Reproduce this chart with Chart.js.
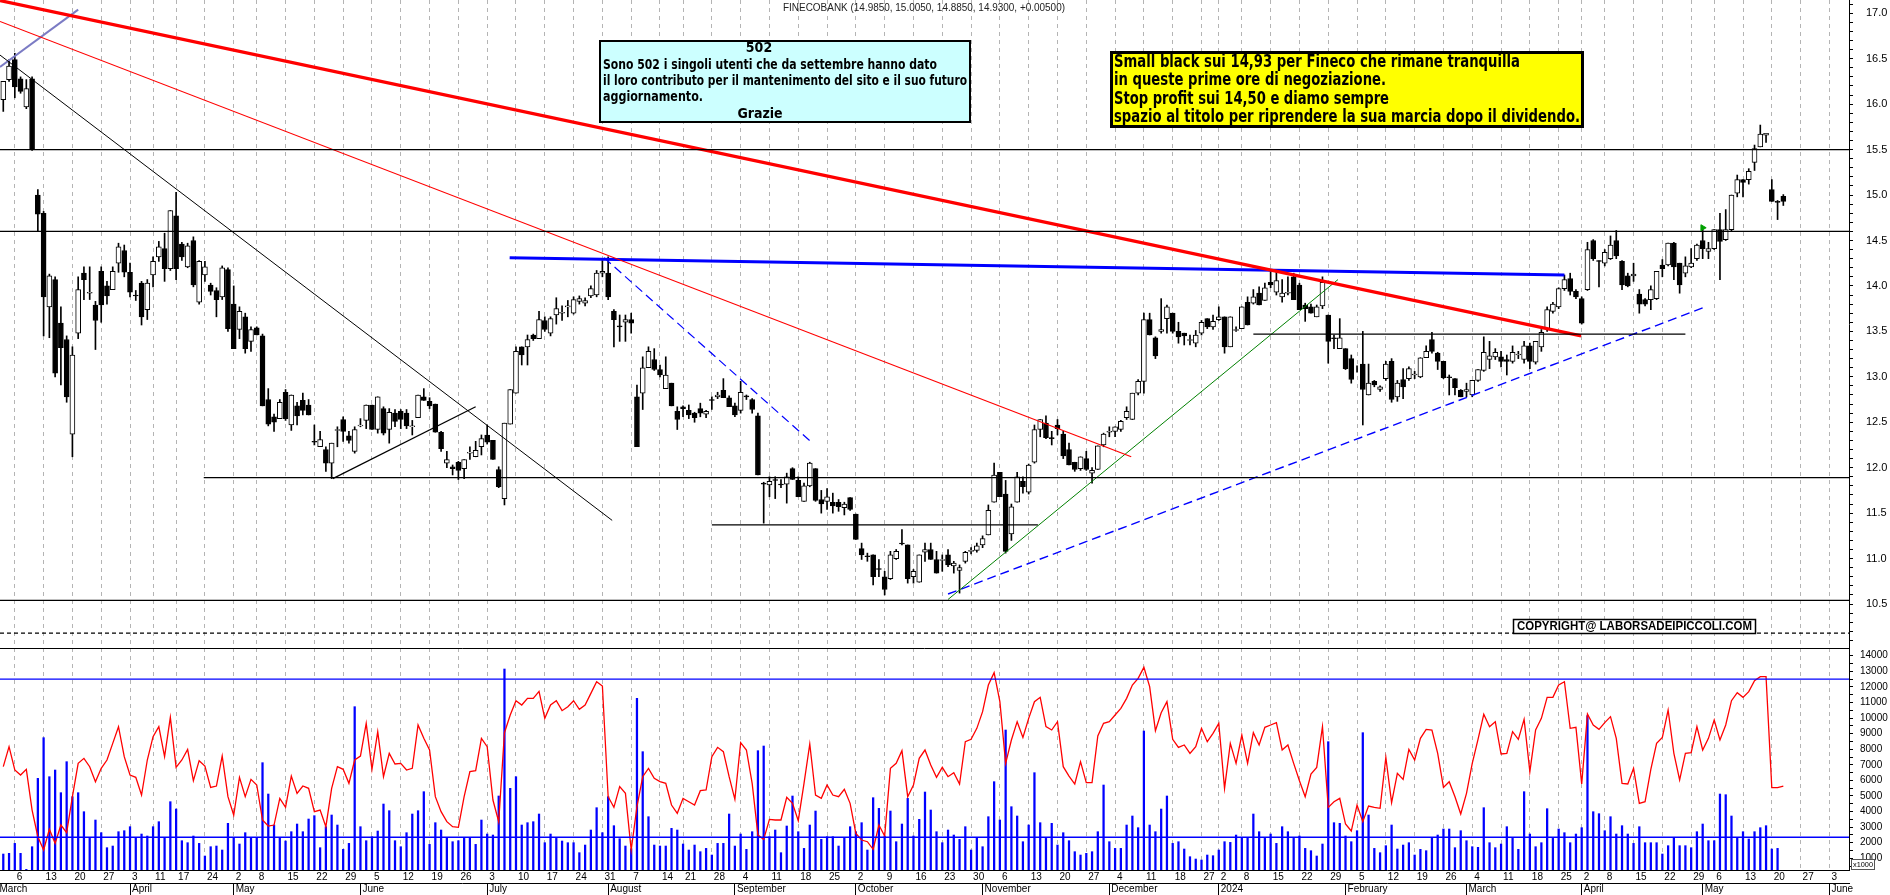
<!DOCTYPE html>
<html>
<head>
<meta charset="utf-8">
<script src="https://cdn.jsdelivr.net/npm/chart.js@4/dist/chart.umd.min.js"></script>
<style>
  html, body { margin: 0; padding: 0; background: #fff; overflow: hidden; }
  #wrap { position: relative; width: 1890px; height: 895px; }
  #priceCanvas { position: absolute; left: 0; top: 0; }
  #volCanvas { position: absolute; left: 0; top: 648px; }
</style>
</head>
<body>
<div id="wrap">
  <canvas id="priceCanvas" width="1890" height="648"></canvas>
  <canvas id="volCanvas" width="1890" height="247"></canvas>
</div>
<script>
// FinecoBank daily candles, 2 Mar 2023 -> 22 May 2024, one entry per trading day.
const opens = [
  16.05,16.27,16.49,16.28,15.97,16.28,15.00,14.80,13.77,14.07,
  13.59,13.41,12.37,13.48,14.14,13.92,13.79,14.16,14.00,13.96,
  14.25,14.39,14.15,13.90,14.03,13.74,14.12,14.32,14.41,14.19,
  14.77,14.46,14.21,14.50,13.82,14.12,14.01,13.95,13.88,14.18,
  13.80,13.52,13.66,13.39,13.54,13.45,12.75,12.56,12.54,12.83,
  12.47,12.68,12.74,12.69,12.29,12.23,12.20,12.05,12.41,12.53,
  12.35,12.18,12.46,12.52,12.69,12.42,12.65,12.42,12.60,12.62,
  12.60,12.45,12.55,12.78,12.73,12.70,12.39,12.05,12.01,12.06,
  11.99,12.16,12.12,12.23,12.36,12.30,11.98,11.66,12.48,12.82,
  13.33,13.33,13.46,13.42,13.62,13.48,13.68,13.70,13.77,13.70,
  13.83,13.81,13.89,13.90,14.14,14.14,13.72,13.56,13.60,13.63,
  12.78,12.82,13.10,13.19,13.08,12.87,12.93,12.62,12.67,12.63,
  12.60,12.65,12.59,12.75,12.78,12.85,12.77,12.68,12.63,12.79,
  12.75,12.57,11.83,11.81,11.87,11.82,11.82,11.99,11.86,11.63,
  11.80,11.99,11.65,11.63,11.62,11.62,11.56,11.67,11.49,11.11,
  11.03,11.04,10.89,10.80,10.78,11.00,11.17,11.15,10.80,10.74,
  11.07,11.10,10.99,10.98,11.04,10.92,10.87,10.97,11.08,11.09,
  11.15,11.26,11.62,11.95,11.71,11.27,11.62,11.85,11.73,12.06,
  12.42,12.49,12.33,12.47,12.37,12.20,12.06,11.99,12.10,11.94,
  11.98,12.25,12.39,12.40,12.42,12.55,12.53,12.82,12.95,13.63,
  13.43,13.50,13.64,13.70,13.50,13.48,13.40,13.37,13.48,13.64,
  13.55,13.63,13.66,13.33,13.51,13.53,13.82,13.81,13.92,13.84,
  14.04,13.93,13.88,13.92,14.10,14.01,13.79,13.77,13.66,13.78,
  13.68,13.43,13.31,13.31,13.20,13.10,13.14,12.80,12.95,12.86,
  12.98,13.17,12.78,12.97,12.98,13.02,13.00,13.21,13.41,13.26,
  13.17,13.00,12.98,12.85,12.84,12.80,12.96,13.07,13.19,13.22,
  13.22,13.19,13.17,13.24,13.19,13.34,13.16,13.33,13.53,13.72,
  13.77,13.97,14.08,13.94,13.86,13.96,14.50,14.28,14.25,14.30,
  14.50,14.27,14.11,14.11,13.91,13.85,13.85,13.86,14.23,14.23,
  14.47,14.25,14.14,14.21,14.30,14.50,14.38,14.41,14.62,14.51,
  14.62,15.02,15.17,15.17,15.36,15.53,15.66,15.06,14.93,14.985
];
const highs = [
  16.25,16.49,16.56,16.30,16.27,16.30,15.06,14.82,14.13,14.10,
  13.77,13.45,13.33,14.10,14.21,14.21,13.83,14.21,14.05,14.21,
  14.47,14.45,14.25,13.95,14.05,14.07,14.32,14.49,14.58,14.83,
  15.03,14.48,14.47,14.54,14.28,14.27,14.03,13.98,14.22,14.20,
  14.00,13.77,13.70,13.55,13.55,13.47,12.87,12.59,12.75,12.86,
  12.80,12.72,12.82,12.75,12.47,12.40,12.23,12.27,12.45,12.56,
  12.40,12.45,12.54,12.69,12.69,12.78,12.67,12.65,12.64,12.64,
  12.64,12.52,12.80,12.87,12.77,12.70,12.40,12.18,12.03,12.07,
  12.09,12.23,12.29,12.36,12.47,12.30,12.01,12.49,12.86,13.33,
  13.33,13.46,13.47,13.72,13.66,13.66,13.87,13.78,13.84,13.88,
  13.89,13.87,14.00,14.17,14.28,14.32,13.74,13.68,13.68,13.70,
  12.91,13.22,13.33,13.31,13.13,13.22,12.93,12.67,12.68,12.69,
  12.61,12.71,12.63,12.78,12.83,12.98,12.79,12.71,12.95,12.80,
  12.76,12.60,11.84,11.90,11.90,11.87,11.94,12.00,11.90,11.83,
  12.06,11.99,11.75,11.77,11.72,11.65,11.62,11.67,11.49,11.17,
  11.06,11.04,10.99,10.86,11.08,11.10,11.32,11.15,10.88,11.04,
  11.17,11.17,11.08,11.04,11.10,10.97,10.93,11.08,11.12,11.17,
  11.25,11.59,12.05,11.95,11.86,11.60,11.95,11.90,12.04,12.47,
  12.53,12.57,12.40,12.53,12.40,12.27,12.06,12.12,12.18,12.00,
  12.24,12.38,12.45,12.45,12.52,12.67,12.82,12.97,13.70,13.70,
  13.44,13.86,13.79,13.70,13.60,13.48,13.46,13.51,13.62,13.64,
  13.68,13.77,13.66,13.66,13.55,13.77,13.88,13.96,13.99,14.03,
  14.16,14.16,14.07,14.10,14.14,14.03,13.81,13.80,13.79,14.10,
  13.68,13.46,13.64,13.31,13.24,13.12,13.50,13.14,12.96,12.90,
  13.17,13.20,12.96,13.09,13.11,13.06,13.21,13.34,13.49,13.27,
  13.17,13.02,12.98,12.86,12.93,12.96,13.08,13.44,13.39,13.31,
  13.28,13.24,13.34,13.28,13.39,13.37,13.39,13.52,13.77,13.82,
  13.98,14.12,14.14,13.96,13.88,14.48,14.51,14.28,14.40,14.55,
  14.61,14.28,14.14,14.25,13.96,13.86,14.00,14.16,14.29,14.47,
  14.48,14.25,14.32,14.41,14.46,14.62,14.48,14.62,14.80,14.84,
  15.00,15.22,15.17,15.29,15.55,15.77,15.68,15.17,14.94,15.005
];
const lows = [
  15.92,16.25,16.07,16.12,15.95,15.49,14.60,13.45,13.43,13.00,
  12.91,12.72,12.12,13.42,13.85,13.85,13.30,13.60,13.80,13.96,
  14.15,14.10,13.88,13.84,13.57,13.63,13.99,14.27,14.05,14.17,
  14.07,14.28,14.20,13.99,13.80,14.05,13.90,13.66,13.85,13.50,
  13.31,13.42,13.26,13.28,13.46,12.68,12.46,12.40,12.54,12.52,
  12.41,12.47,12.58,12.58,12.25,12.23,11.96,11.88,12.23,12.29,
  12.27,12.16,12.45,12.43,12.42,12.38,12.36,12.27,12.45,12.43,
  12.43,12.36,12.55,12.74,12.65,12.39,12.18,12.00,11.92,11.87,
  11.88,12.09,12.12,12.14,12.26,12.09,11.78,11.59,12.48,12.82,
  13.13,13.13,13.40,13.42,13.50,13.45,13.58,13.62,13.66,13.69,
  13.80,13.78,13.87,13.88,14.10,13.85,13.33,13.39,13.39,13.48,
  12.23,12.64,13.10,13.07,13.00,12.87,12.68,12.42,12.56,12.54,
  12.50,12.56,12.55,12.64,12.76,12.77,12.67,12.56,12.60,12.75,
  12.60,11.92,11.39,11.68,11.66,11.78,11.61,11.87,11.68,11.63,
  11.79,11.63,11.50,11.54,11.50,11.52,11.48,11.53,11.21,10.99,
  10.97,10.71,10.80,10.60,10.77,10.99,11.15,10.73,10.73,10.74,
  10.97,10.99,10.84,10.86,10.91,10.84,10.62,10.95,11.05,11.07,
  11.12,11.26,11.62,11.68,11.06,11.20,11.62,11.72,11.71,12.05,
  12.34,12.32,12.25,12.36,12.10,12.03,11.96,11.97,11.97,11.83,
  11.98,12.23,12.34,12.34,12.40,12.53,12.53,12.80,12.82,13.46,
  13.20,13.48,13.48,13.48,13.37,13.35,13.35,13.33,13.46,13.53,
  13.52,13.62,13.26,13.33,13.50,13.53,13.57,13.80,13.79,13.84,
  13.98,13.90,13.82,13.90,13.85,13.74,13.61,13.70,13.66,13.75,
  13.15,13.31,13.31,13.08,12.93,13.05,12.47,12.80,12.89,12.84,
  12.96,12.72,12.73,12.76,12.96,12.98,12.99,13.21,13.26,13.08,
  12.98,12.80,12.80,12.78,12.78,12.78,12.95,13.06,13.09,13.19,
  13.11,13.02,13.15,13.20,13.15,13.09,13.14,13.28,13.50,13.70,
  13.75,13.95,13.90,13.86,13.58,13.95,14.28,13.99,14.22,14.29,
  14.30,13.96,13.99,14.05,13.70,13.78,13.74,13.85,14.10,14.22,
  14.07,13.92,14.10,14.20,14.28,14.30,14.30,14.40,14.07,14.50,
  14.60,14.98,14.98,15.12,15.27,15.53,15.58,14.93,14.73,14.885
];
const closes = [
  16.25,16.42,16.19,16.14,16.17,15.50,14.79,13.88,14.11,13.04,
  13.32,12.78,13.24,13.96,14.07,13.93,13.62,13.79,13.89,14.16,
  14.43,14.15,13.93,13.89,13.66,14.03,14.27,14.43,14.19,14.83,
  14.19,14.32,14.44,14.01,14.27,14.21,13.94,13.85,14.20,13.53,
  13.31,13.72,13.31,13.52,13.46,12.68,12.48,12.50,12.72,12.54,
  12.80,12.57,12.63,12.58,12.28,12.31,12.05,12.27,12.42,12.40,
  12.30,12.42,12.47,12.69,12.42,12.78,12.38,12.61,12.51,12.53,
  12.46,12.46,12.80,12.74,12.68,12.39,12.21,12.09,11.99,11.97,
  12.09,12.17,12.19,12.32,12.28,12.09,11.79,12.49,12.86,13.28,
  13.24,13.41,13.42,13.63,13.52,13.64,13.75,13.71,13.78,13.85,
  13.86,13.84,13.97,14.14,14.16,13.88,13.63,13.55,13.63,13.59,
  12.23,13.10,13.28,13.08,13.02,13.02,12.68,12.53,12.65,12.58,
  12.55,12.60,12.62,12.74,12.80,12.77,12.67,12.58,12.83,12.78,
  12.64,11.92,11.82,11.85,11.86,11.81,11.90,11.87,11.68,11.80,
  12.05,11.64,11.60,11.68,11.58,11.57,11.60,11.54,11.21,11.04,
  11.02,10.80,10.88,10.66,11.04,11.08,11.16,10.78,10.86,11.04,
  11.10,10.99,10.84,10.99,10.93,10.95,10.90,11.07,11.09,11.14,
  11.22,11.53,11.92,11.68,11.08,11.57,11.90,11.79,12.03,12.42,
  12.53,12.33,12.32,12.43,12.13,12.03,11.98,12.12,11.98,11.97,
  12.24,12.37,12.40,12.45,12.51,12.62,12.82,12.95,13.63,13.46,
  13.23,13.52,13.77,13.50,13.44,13.45,13.41,13.46,13.60,13.55,
  13.61,13.66,13.33,13.66,13.52,13.77,13.57,13.88,13.79,13.98,
  14.01,14.06,13.92,13.93,13.85,13.74,13.75,13.70,13.77,14.04,
  13.39,13.42,13.43,13.09,12.97,13.10,12.86,12.93,12.91,12.89,
  13.14,12.75,12.93,12.89,13.09,13.03,13.21,13.28,13.28,13.17,
  12.99,12.99,12.88,12.78,12.86,12.96,13.08,13.27,13.23,13.27,
  13.17,13.17,13.27,13.25,13.34,13.17,13.39,13.49,13.74,13.80,
  13.97,14.07,13.94,13.88,13.59,14.40,14.30,14.27,14.37,14.45,
  14.33,14.01,14.00,14.13,13.80,13.80,13.96,14.16,14.19,14.47,
  14.21,14.01,14.22,14.25,14.45,14.41,14.41,14.62,14.49,14.62,
  15.00,15.17,15.14,15.26,15.51,15.67,15.68,14.93,14.92,14.93
];

// Volume (thousands of shares); the last session has no bar yet.
const volumes = [
  1275,1318,1959,1318,290,1745,6130,8740,6237,6665,
  5211,7200,4954,5211,3991,2280,3457,2644,1681,1788,
  2708,2772,3029,2344,2558,2430,3029,3350,2344,4633,
  4162,2130,2002,2430,1959,1147,1745,1788,1532,3243,
  2344,1917,2644,2344,2344,7136,5125,3136,2344,2109,
  2708,3200,2708,3521,3735,1681,3029,3778,3136,1575,
  1959,10729,3029,2130,2387,2751,4483,4055,2130,1745,
  2644,3842,4055,5275,1895,3286,2815,2344,2066,2130,
  2280,2344,1895,3457,2558,2494,4997,13146,5489,6237,
  3136,3286,3350,3842,2002,2558,2280,2109,2002,2002,
  1361,1852,2815,4248,2644,4954,3093,2259,1788,1617,
  11264,7842,3671,1852,1788,1788,2922,2815,1917,1532,
  1852,1425,1638,1211,1959,1959,3842,1788,2558,1575,
  2708,7906,8205,2387,2815,1361,3072,4997,2708,1638,
  3136,4034,2216,2387,2387,1788,2344,3029,2708,3286,
  1532,4890,4205,2430,4034,2066,3200,4847,2430,3500,
  5253,4098,2708,2002,2815,2494,2216,3029,1532,2344,
  1745,3671,5917,3457,9232,4312,3714,2066,3136,6494,
  3286,2280,3243,1852,2644,2130,1425,1211,1318,1425,
  2708,5703,2066,1638,1638,3136,3714,2965,9168,3136,
  2708,4162,4997,1959,2066,1596,1104,954,890,1211,
  1168,1532,2066,2023,2494,2344,2344,3842,2708,2280,
  2558,1959,3029,2708,2280,2430,1638,1489,1147,1917,
  8483,3286,3243,2430,2066,2772,9061,3778,1638,1361,
  1810,3136,1596,1852,2002,1211,1575,1489,2344,2494,
  2879,2879,1681,2772,2130,1745,1703,4248,2002,1681,
  1917,3029,2280,1575,5275,2558,1745,2002,4184,2280,
  2879,2644,2002,2558,2965,10152,3991,3863,2772,3671,
  2558,3093,2558,1959,3029,2002,2002,2002,1275,1810,
  2344,1810,1810,1681,2708,3200,2130,2130,5125,5082,
  3714,2344,2708,2237,2708,2965,3093,1596,1638,null
];

// Red indicator line plotted on the volume panel.
const redLine = [
  6879,8163,6665,6344,6708,4098,2387,1532,2858,1959,
  3136,2644,4954,7093,7414,6879,5917,6772,7307,8376,
  9446,7521,6344,6194,5061,7307,8804,9446,7521,10045,
  6836,7307,7991,5981,7264,6922,5553,5639,7564,4954,
  3778,6194,4954,6066,5703,3457,3072,3136,4847,4270,
  6280,5168,5639,5489,3991,4098,3029,5489,6879,6708,
  5810,7307,7564,9660,6708,9125,6237,7735,7050,7093,
  6665,6772,9553,8697,7949,4954,3991,3350,3029,2986,
  4954,6558,6622,8697,8163,4740,3350,9061,10195,11114,
  10836,11264,11264,11713,9981,10836,11114,10473,10729,11114,
  10558,10836,11585,12333,12055,4954,4270,5596,5168,1532,
  4312,6237,6772,6130,5917,5810,4419,3885,4847,4633,
  4419,5339,5382,7521,8120,7842,6237,4783,8419,7949,
  5810,2494,2216,3500,3457,3457,4911,4526,3414,5810,
  8334,5061,4847,5703,5061,4954,5425,4526,2601,2173,
  2066,1575,3136,2430,6772,7093,7906,4954,5703,7414,
  7949,6986,6194,6836,6237,6494,5767,8483,8633,9339,
  10408,12120,12911,11050,7093,8590,9767,8761,9981,11050,
  11328,9446,9232,9767,6879,6280,5767,7200,5853,5853,
  8847,9660,9767,10195,10622,11264,12120,12548,13253,12013,
  9189,10344,11050,8633,8120,8270,7735,8163,9339,8483,
  9018,9660,5489,8376,7093,8911,7093,9061,8270,9403,
  9553,9703,7949,8270,7093,5981,4954,6409,6836,9446,
  4270,4633,4847,3200,2751,4419,3350,4355,4270,4206,
  7478,4569,6451,6066,7991,7307,8697,9275,9232,7735,
  5553,5917,4954,3842,5168,7093,8633,10237,9446,9767,
  7692,7735,9125,8633,9917,6558,9232,9981,11328,11328,
  12120,12333,9339,9403,5767,10258,9553,9275,9703,10088,
  8697,5810,5767,6772,4526,4633,6708,8376,8761,10515,
  7735,6024,7735,7777,9446,7949,8697,9874,8590,9553,
  11114,11628,11328,11692,12397,12654,12654,5532,5532,5639
];

// X axis: trading-day index of each week's first session, and its day number.
const weekTickIdx = [2,7,12,17,22,26,30,35,40,44,49,54,59,64,69,74,79,84,89,94,99,104,
  109,114,118,123,128,133,138,143,148,153,158,163,168,173,178,183,188,193,198,203,208,
  211,215,220,225,230,235,240,245,250,255,260,265,270,274,278,283,288,293,297,302,307,312,317];
const weekTickLabels = ['6','13','20','27','3','11','17','24','2','8','15','22','29','5','12','19','26',
  '3','10','17','24','31','7','14','21','28','4','11','18','25','2','9','16','23','30','6','13','20','27',
  '4','11','18','27','2','8','15','22','29','5','12','19','26','4','11','18','25','2','8','15','22','29',
  '6','13','20','27','3'];
const monthTickIdx = [-1,22,40,62,84,105,127,148,170,192,211,233,254,274,295,317];
const monthTickLabels = ['March','April','May','June','July','August','September','October',
  'November','December','2024','February','March','April','May','June'];

const priceTickValues = [10.5,11.0,11.5,12.0,12.5,13.0,13.5,14.0,14.5,15.0,15.5,16.0,16.5,17.0];
const priceTickLabels = ['10.5','11.0','11.5','12.0','12.5','13.0','13.5','14.0','14.5','15.0','15.5','16.0','16.5','17.0'];
const volTickValues = [1000,2000,3000,4000,5000,6000,7000,8000,9000,10000,11000,12000,13000,14000];
const volTickLabels = ['1000','2000','3000','4000','5000','6000','7000','8000','9000','10000','11000','12000','13000','14000'];

// Drawn studies, endpoints as [day index, price].
const trendLines = {
  resistanceMain: [[-0.57, 17.14], [273.9, 13.45]],
  resistanceThin: [[-0.57, 16.91], [195.8, 12.12]],
  blackFall:      [[-0.57, 16.54], [105.7, 11.42]],
  lavender:       [[-0.57, 16.41], [13.0, 17.04]],
  blackRise:      [[57.2, 11.88], [82.0, 12.67]],
  blueTop:        [[87.9, 14.31], [271.0, 14.12]],
  blueFall:       [[104.3, 14.31], [140.3, 12.28]],
  greenRise:      [[164.0, 10.55], [231.7, 14.07]],
  blueRise:       [[164.0, 10.61], [295.1, 13.76]]
};
// Horizontal levels: [price, from day, to day]
const priceLevels = [
  [15.50, -0.57, 320.4], [14.60, -0.57, 320.4], [11.89, 34.8, 320.4],
  [11.37, 123.0, 179.6], [13.47, 217.0, 292.0], [10.54, -0.57, 320.4]
];
const dottedLevel = 10.18;
const volLevels = [12500, 2350];
const arrowMark = [295, 14.64];

const titleText = 'FINECOBANK (14.9850, 15.0050, 14.8850, 14.9300, +0.00500)';
const noteCyan = ['502', 'Sono 502 i singoli utenti che da settembre hanno dato',
  'il loro contributo per il mantenimento del sito e il suo futuro', 'aggiornamento.', 'Grazie'];
const noteYellow = ['Small black sui 14,93 per Fineco che rimane tranquilla',
  'in queste prime ore di negoziazione.', 'Stop profit sui 14,50 e diamo sempre',
  'spazio al titolo per riprendere la sua marcia dopo il dividendo.'];
const copyrightText = 'COPYRIGHT@ LABORSADEIPICCOLI.COM';

// ---------------------------------------------------------------------------
const SANS = "'Liberation Sans', Arial, sans-serif";
const NARROW = "'Liberation Sans Narrow', 'Arial Narrow', 'DejaVu Sans Condensed', sans-serif";
const X_MIN = -0.57, X_MAX = 320.4;
const GRID = '#b4b4b4';

function fixSize(size) {
  return s => {
    if (s.isHorizontal()) s.height = size; else s.width = size;
    s.paddingTop = s.paddingBottom = s.paddingLeft = s.paddingRight = 0;
  };
}
const near = (a, b) => Math.abs(a - b) < 1e-6;

function segment(pts, color, width, dash) {
  return {
    type: 'line', data: pts.map(p => ({ x: p[0], y: p[1] })),
    borderColor: color, borderWidth: width, borderDash: dash || [],
    pointRadius: 0, fill: false, tension: 0, order: 1
  };
}

const days = closes.map((_, i) => i);
const wickData = days.map(i => ({ x: i, y: [lows[i], highs[i]] }));
const bodyData = days.map(i => ({ x: i, y: [Math.min(opens[i], closes[i]), Math.max(opens[i], closes[i])] }));

const lineStyle = {
  resistanceMain: ['#ff0000', 3.2], resistanceThin: ['#ff0000', 1.2], blackFall: ['#000', 1],
  lavender: ['#7b7bc4', 2], blackRise: ['#000', 1.2], blueTop: ['#0000ff', 3],
  blueFall: ['#0000ff', 1.2, [9, 5]], greenRise: ['#008000', 1], blueRise: ['#0000ff', 1.4, [9, 5]]
};

const priceDatasets = [
  { type: 'bar', data: wickData, backgroundColor: '#000', barThickness: 1, grouped: false, order: 11 },
  {
    type: 'bar', data: bodyData, grouped: false, order: 10, barThickness: 5,
    backgroundColor: ctx => closes[ctx.dataIndex] >= opens[ctx.dataIndex] ? '#fff' : '#000',
    borderColor: '#000', borderWidth: 1, borderSkipped: false
  }
];
priceLevels.forEach(l => priceDatasets.push(segment([[l[1], l[0]], [l[2], l[0]]], '#000', 1.3)));
priceDatasets.push(segment([[X_MIN, dottedLevel], [X_MAX, dottedLevel]], '#000', 1.3, [4, 3]));
Object.keys(trendLines).forEach(k => {
  const st = lineStyle[k];
  priceDatasets.push(segment(trendLines[k], st[0], st[1], st[2]));
});
priceDatasets.push({
  type: 'scatter', data: [{ x: arrowMark[0], y: arrowMark[1] }], pointStyle: 'triangle',
  rotation: 90, radius: 3.5, backgroundColor: '#00a000', borderColor: '#00a000', order: 0
});

function box(ctx, x, y, w, h, fill, lw) {
  ctx.fillStyle = fill; ctx.fillRect(x, y, w, h);
  ctx.lineWidth = lw; ctx.strokeStyle = '#000'; ctx.strokeRect(x, y, w, h);
}

const notesPlugin = {
  id: 'notes',
  afterDraw(chart) {
    const ctx = chart.ctx;
    ctx.save();
    ctx.textBaseline = 'middle';
    ctx.fillStyle = '#222';
    ctx.font = '10px ' + SANS;
    ctx.textAlign = 'center';
    ctx.fillText(titleText, 924, 8, 282);

    box(ctx, 600, 41, 370, 81, '#ccffff', 2);
    ctx.fillStyle = '#000';
    ctx.font = 'bold 14px ' + NARROW;
    ctx.fillText(noteCyan[0], 759, 48);
    ctx.textAlign = 'left';
    ctx.fillText(noteCyan[1], 603, 65, 334);
    ctx.fillText(noteCyan[2], 603, 81, 364);
    ctx.fillText(noteCyan[3], 603, 97, 100);
    ctx.textAlign = 'center';
    ctx.fillText(noteCyan[4], 760, 114);

    box(ctx, 1111.5, 52.5, 471, 74, '#ffff00', 3);
    ctx.fillStyle = '#000';
    ctx.textAlign = 'left';
    ctx.font = 'bold 18px ' + NARROW;
    const yw = [406, 272, 275, 466];
    noteYellow.forEach((t, k) => ctx.fillText(t, 1114, 62 + k * 18.5, yw[k]));

    box(ctx, 1513.5, 619.5, 242, 14, '#fff', 1.5);
    ctx.fillStyle = '#000';
    ctx.font = 'bold 12px ' + SANS;
    ctx.fillText(copyrightText, 1517, 627, 235);
    ctx.restore();
  }
};

const volFramePlugin = {
  id: 'volFrame',
  afterDraw(chart) {
    const ctx = chart.ctx, a = chart.chartArea;
    ctx.save();
    ctx.strokeStyle = '#000'; ctx.lineWidth = 1;
    ctx.beginPath(); ctx.moveTo(0, 0.5); ctx.lineTo(a.right, 0.5); ctx.stroke();
    ctx.fillStyle = '#fff'; ctx.fillRect(1851.5, 211.5, 23, 10);
    ctx.strokeStyle = '#555'; ctx.strokeRect(1851.5, 211.5, 23, 10);
    ctx.fillStyle = '#000'; ctx.font = '8px ' + SANS;
    ctx.textAlign = 'left'; ctx.textBaseline = 'middle';
    ctx.fillText('x1000', 1853, 217, 20);
    ctx.restore();
  }
};

const xGrid = {
  type: 'linear', min: X_MIN, max: X_MAX, offset: false,
  grid: { display: true, color: GRID, lineWidth: 1, drawTicks: false, offset: false },
  afterBuildTicks: s => { s.ticks = weekTickIdx.map(v => ({ value: v })); }
};

new Chart(document.getElementById('priceCanvas'), {
  type: 'line',
  data: { datasets: priceDatasets },
  options: {
    responsive: false, animation: false, devicePixelRatio: 1,
    layout: { padding: 0, autoPadding: false },
    plugins: { legend: { display: false }, tooltip: { enabled: false } },
    scales: {
      x: Object.assign({}, xGrid, {
        ticks: { display: false },
        border: { display: false, dash: [4, 4] },
        afterFit: fixSize(0)
      }),
      y: {
        type: 'linear', position: 'right', min: 10.016, max: 17.146,
        grid: { drawOnChartArea: false, drawTicks: true, tickLength: 4, color: '#000' },
        border: { display: true, color: '#000', width: 1 },
        ticks: {
          padding: 13, color: '#000', font: { family: SANS, size: 11 }, autoSkip: false,
          callback: v => {
            const k = priceTickValues.findIndex(p => near(p, v));
            return k >= 0 ? priceTickLabels[k] : '';
          }
        },
        afterBuildTicks: s => {
          const t = [];
          for (let k = 101; k <= 171; k++) t.push({ value: k / 10 });
          s.ticks = t;
        },
        afterFit: fixSize(41)
      }
    }
  },
  plugins: [notesPlugin]
});

new Chart(document.getElementById('volCanvas'), {
  type: 'line',
  data: {
    datasets: [
      { type: 'bar', data: days.map(i => ({ x: i, y: volumes[i] })), backgroundColor: '#0000ff',
        barThickness: 1.6, grouped: false, order: 5 },
      { type: 'line', data: days.map(i => ({ x: i, y: redLine[i] })), borderColor: '#ff0000',
        borderWidth: 1.3, pointRadius: 0, tension: 0, order: 2 },
      ...volLevels.map(v => ({
        type: 'line', data: [{ x: X_MIN, y: v }, { x: X_MAX, y: v }], borderColor: '#0000ff',
        borderWidth: 1.3, pointRadius: 0, order: 1
      }))
    ]
  },
  options: {
    responsive: false, animation: false, devicePixelRatio: 1,
    layout: { padding: 0, autoPadding: false },
    plugins: { legend: { display: false }, tooltip: { enabled: false } },
    scales: {
      x: Object.assign({}, xGrid, {
        position: 'bottom',
        border: { display: true, color: '#000', width: 1, dash: [4, 4] },
        ticks: {
          display: true, autoSkip: false, maxRotation: 0, align: 'start', labelOffset: 2, padding: 1,
          color: '#000', font: { family: SANS, size: 10 },
          callback: v => { const k = weekTickIdx.indexOf(v); return k >= 0 ? weekTickLabels[k] : ''; }
        },
        afterFit: fixSize(13)
      }),
      xm: {
        type: 'linear', position: 'bottom', min: X_MIN, max: X_MAX, offset: false,
        grid: { drawOnChartArea: false, drawTicks: true, tickLength: 12, color: '#000', offset: false },
        border: { display: true, color: '#000', width: 1 },
        ticks: {
          autoSkip: false, maxRotation: 0, align: 'start', labelOffset: 2, padding: -12,
          color: '#000', font: { family: SANS, size: 10 },
          callback: v => { const k = monthTickIdx.indexOf(v); return k >= 0 ? monthTickLabels[k] : ''; }
        },
        afterBuildTicks: s => { s.ticks = monthTickIdx.map(v => ({ value: v })); },
        afterFit: fixSize(12)
      },
      y: {
        type: 'linear', position: 'right', min: 250, max: 14494,
        grid: { drawOnChartArea: false, drawTicks: true, tickLength: 4, color: '#000' },
        border: { display: true, color: '#000', width: 1 },
        ticks: {
          padding: 7, color: '#000', font: { family: SANS, size: 10 }, autoSkip: false,
          callback: v => { const k = volTickValues.indexOf(v); return k >= 0 ? volTickLabels[k] : ''; }
        },
        afterBuildTicks: s => {
          const t = [];
          for (let v = 500; v <= 14000; v += 500) t.push({ value: v });
          s.ticks = t;
        },
        afterFit: fixSize(41)
      }
    }
  },
  plugins: [volFramePlugin]
});
</script>
</body>
</html>
